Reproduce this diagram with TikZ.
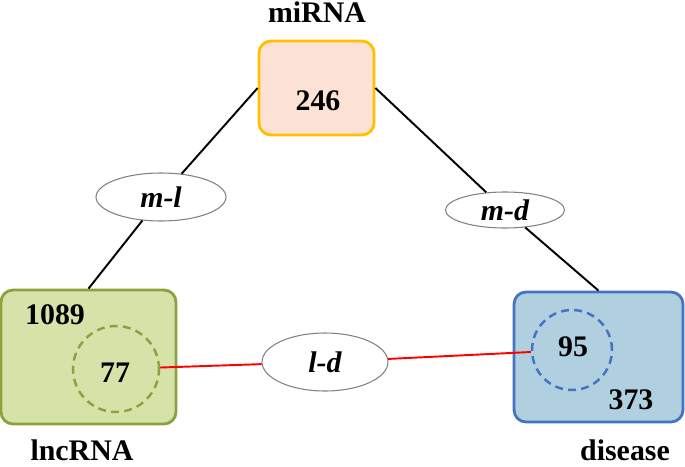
\documentclass[tikz,border=0pt]{standalone}
\usepackage{fontspec}
\setmainfont{Liberation Serif}
\usetikzlibrary{shapes.geometric}
\definecolor{mipeach}{HTML}{FBE2D4}
\definecolor{migold}{HTML}{FFC000}
\definecolor{lncgreen}{HTML}{D5E3A9}
\definecolor{lncolive}{HTML}{8BA23E}
\definecolor{disblue}{HTML}{B0CFDF}
\definecolor{disedge}{HTML}{4472C4}

\begin{document}
\begin{tikzpicture}[x=0.02cm, y=-0.02cm,
  txt/.style={font=\bfseries\fontsize{17}{20}\selectfont},
  setbox/.style={draw, line width=1.6pt, rounded corners=0.24cm, inner sep=0pt},
  pair/.style={ellipse, draw=gray, line width=0.6pt, fill=white, inner sep=0pt, font=\bfseries\itshape\fontsize{17}{20}\selectfont},
  overlap/.style={circle, draw, dashed, dash pattern=on 4.5pt off 3pt, line width=1.4pt, inner sep=0pt}]
  \useasboundingbox (0,0) rectangle (685,466);

  \node[setbox, draw=migold, fill=mipeach, minimum width=2.3cm, minimum height=1.88cm] (mi) at (316.5,88) {};
  \node[setbox, draw=lncolive, fill=lncgreen, minimum width=3.5cm, minimum height=2.68cm] (lnc) at (88.5,357) {};
  \node[setbox, draw=disedge, fill=disblue, minimum width=3.38cm, minimum height=2.6cm] (dis) at (598.5,357) {};

  \node[overlap, draw=lncolive, minimum size=1.72cm] (c77) at (116,369) {};
  \node[overlap, draw=disedge, minimum size=1.6cm] (c95) at (572,350) {};

  \node[txt] (miname) at (317,12) {miRNA};
  \node[txt] (lncname) at (82,450) {lncRNA};
  \node[txt] (disname) at (625,450) {disease};

  \node[txt] (n246) at (318,101) {246};
  \node[txt] (n1089) at (55,315) {1089};
  \node[txt] (n77) at (115,373) {77};
  \node[txt] (n95) at (573,347) {95};
  \node[txt] (n373) at (631,400) {373};

  \node[pair, minimum width=2.6cm, minimum height=0.96cm] (ml) at (161,197) {m-l};
  \node[pair, minimum width=2.38cm, minimum height=0.72cm] (md) at (505,210) {m-d};
  \node[pair, minimum width=2.52cm, minimum height=1.16cm] (ld) at (325,362) {l-d};

  \draw[line width=1.1pt] (mi.west) -- (ml) (ml) -- (lnc.north);
  \draw[line width=1.1pt] (mi.east) -- (md) (md) -- (dis.north);
  \draw[red, line width=1.1pt] (c77) -- (ld) (ld) -- (c95);
\end{tikzpicture}
\end{document}
